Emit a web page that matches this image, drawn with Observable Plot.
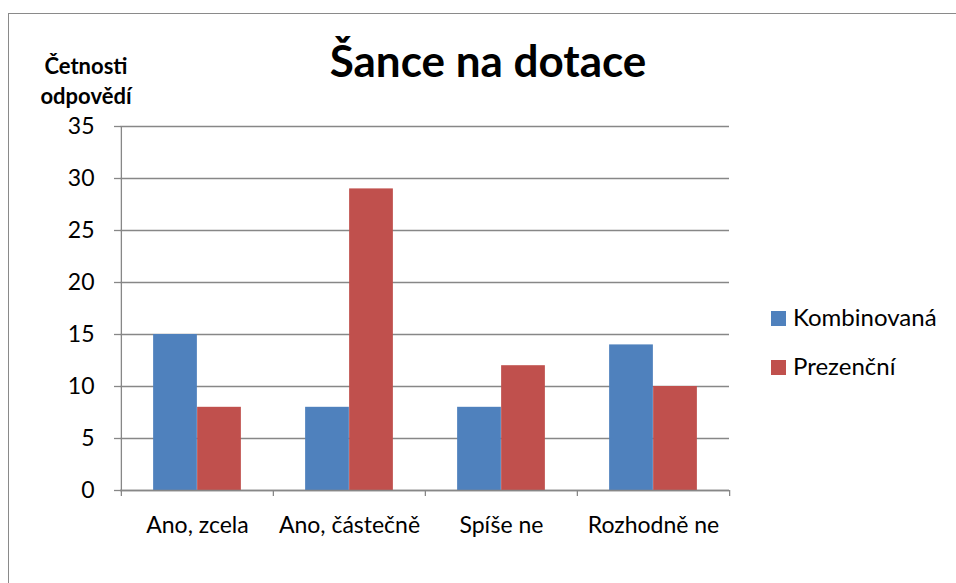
<!DOCTYPE html>
<html>
<head>
<meta charset="utf-8">
<script src="https://cdn.jsdelivr.net/npm/d3@7"></script>
<script src="https://cdn.jsdelivr.net/npm/@observablehq/plot@0.6"></script>
<style>
  html, body { margin: 0; padding: 0; background: #fff; }
  #wrap { position: relative; width: 956px; height: 583px; overflow: hidden; font-family: Lato, "Open Sans", sans-serif; color: #000; }
  #frame { position: absolute; left: 8px; top: 13px; width: 1000px; height: 700px; border-left: 1.5px solid #8a8a8a; border-top: 1.5px solid #8a8a8a; }
  #chart { position: absolute; left: 0; top: 0; }
  .title { position: absolute; left: 238px; width: 500px; top: 36px; text-align: center; font-weight: bold; font-size: 44px; line-height: 48px; white-space: nowrap; }
  .ylab { position: absolute; left: 6px; width: 160px; text-align: center; font-weight: bold; font-size: 22px; line-height: 16px; white-space: nowrap; }
  .legend { position: absolute; left: 771px; top: 0; font-size: 24px; }
  .legend .item { position: absolute; left: 0; white-space: nowrap; height: 20px; }
  .legend .sw { position: absolute; left: 0; top: 0; width: 15px; height: 15px; }
  .legend .lt { position: absolute; left: 22px; top: -6px; line-height: 24px; }
</style>
</head>
<body>
<div id="wrap">
  <div id="frame"></div>
  <div id="chart"></div>
  <div class="title">Šance na dotace</div>
  <div class="ylab" style="top:58px">Četnosti</div>
  <div class="ylab" style="top:88px">odpovědí</div>
  <div class="legend" id="legend"></div>
</div>
<script>
const categories = ["Ano, zcela", "Ano, částečně", "Spíše ne", "Rozhodně ne"];
const seriesNames = ["Kombinovaná", "Prezenční"];
const kombinovana = [15, 8, 8, 14];
const prezencni = [8, 29, 12, 10];
const seriesColors = ["#4F81BD", "#C0504D"];
const yTicks = [0, 5, 10, 15, 20, 25, 30, 35];

const rows = [];
categories.forEach((c, i) => {
  rows.push({category: c, series: seriesNames[0], value: kombinovana[i]});
  rows.push({category: c, series: seriesNames[1], value: prezencni[i]});
});

const W = 956, H = 583, mL = 120, mR = 227, mT = 126, mB = 93;
const bw = (W - mL - mR) / categories.length;
const barW = bw * 0.289;
const grid = "#878787";
const font = "Lato, 'Open Sans', sans-serif";

const bar = (name, left) => Plot.barY(rows.filter(d => d.series === name), {
  x: "category", y: "value", fill: "series",
  insetLeft: left ? bw / 2 - barW : bw / 2,
  insetRight: left ? bw / 2 : bw / 2 - barW
});

const chart = Plot.plot({
  width: W, height: H,
  marginLeft: mL, marginRight: mR, marginTop: mT, marginBottom: mB,
  style: {fontFamily: font, fontSize: "23px", color: "#000", background: "transparent"},
  x: {domain: categories, paddingInner: 0, paddingOuter: 0, label: null},
  y: {domain: [0, 35], label: null},
  color: {domain: seriesNames, range: seriesColors},
  marks: [
    Plot.gridY(yTicks, {stroke: grid, strokeOpacity: 1, strokeWidth: 1.3}),
    Plot.axisY(yTicks, {tickSize: 6, tickPadding: 20, stroke: grid, strokeWidth: 1.3, label: null, fill: "#000", fontSize: 23}),
    Plot.axisX({tickSize: 0, tickPadding: 26, label: null, fill: "#000", fontSize: 23}),
    bar(seriesNames[0], true),
    bar(seriesNames[1], false),
    Plot.ruleY([0], {stroke: grid, strokeWidth: 1.3}),
    Plot.ruleX(categories, {x: d => d, dx: -bw / 2, y1: 0, y2: 0, insetBottom: -6, stroke: grid, strokeWidth: 1.3}),
    Plot.ruleX([categories[categories.length - 1]], {x: d => d, dx: bw / 2, y1: 0, y2: 0, insetBottom: -6, stroke: grid, strokeWidth: 1.3}),
    Plot.ruleX([categories[0]], {x: d => d, dx: -bw / 2, y1: 0, y2: 35, stroke: grid, strokeWidth: 1.3})
  ]
});
document.getElementById("chart").appendChild(chart);

const legend = document.getElementById("legend");
const legendTops = [311, 360];
seriesNames.forEach((s, i) => {
  const it = document.createElement("div");
  it.className = "item";
  it.style.top = legendTops[i] + "px";
  it.innerHTML = `<div class="sw" style="background:${seriesColors[i]}"></div><div class="lt">${s}</div>`;
  legend.appendChild(it);
});
</script>
</body>
</html>
